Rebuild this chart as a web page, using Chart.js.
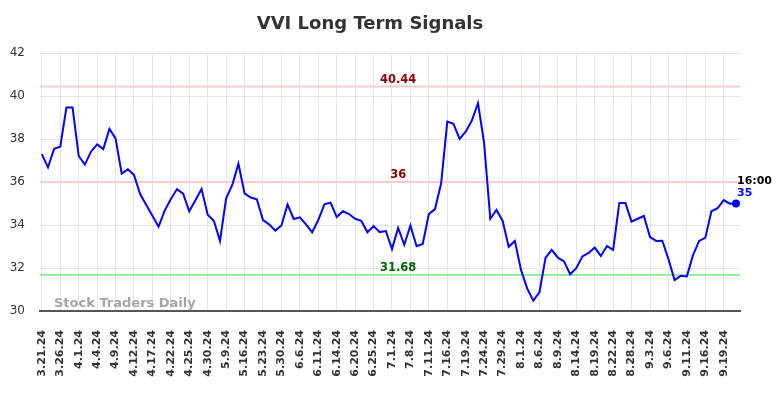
<!DOCTYPE html>
<html>
<head>
<meta charset="utf-8">
<script src="https://cdn.jsdelivr.net/npm/chart.js@4.4.1/dist/chart.umd.min.js"></script>
<style>
  html, body { margin: 0; padding: 0; background: #ffffff; }
  #wrap { width: 784px; height: 398px; }
</style>
</head>
<body>
<div id="wrap"><canvas id="c" width="784" height="398"></canvas></div>
<script>
const dates = [
  "3.21.24","3.22.24","3.25.24","3.26.24","3.27.24","3.28.24","4.1.24","4.2.24","4.3.24","4.4.24",
  "4.5.24","4.8.24","4.9.24","4.10.24","4.11.24","4.12.24","4.15.24","4.16.24","4.17.24","4.18.24",
  "4.19.24","4.22.24","4.23.24","4.24.24","4.25.24","4.26.24","4.29.24","4.30.24","5.2.24","5.6.24",
  "5.9.24","5.10.24","5.13.24","5.16.24","5.17.24","5.20.24","5.23.24","5.24.24","5.28.24","5.30.24",
  "5.31.24","6.3.24","6.6.24","6.7.24","6.10.24","6.11.24","6.12.24","6.13.24","6.14.24","6.17.24",
  "6.18.24","6.20.24","6.21.24","6.24.24","6.25.24","6.26.24","6.27.24","7.1.24","7.2.24","7.3.24",
  "7.8.24","7.9.24","7.10.24","7.11.24","7.12.24","7.15.24","7.16.24","7.17.24","7.18.24","7.19.24",
  "7.22.24","7.23.24","7.24.24","7.25.24","7.26.24","7.29.24","7.30.24","7.31.24","8.1.24","8.2.24",
  "8.5.24","8.6.24","8.7.24","8.8.24","8.9.24","8.12.24","8.13.24","8.14.24","8.15.24","8.16.24",
  "8.19.24","8.20.24","8.21.24","8.22.24","8.23.24","8.26.24","8.28.24","8.29.24","8.30.24","9.3.24",
  "9.4.24","9.5.24","9.6.24","9.9.24","9.10.24","9.11.24","9.12.24","9.13.24","9.16.24","9.17.24",
  "9.18.24","9.19.24","9.20.24","9.23.24"
];
const prices = [
  37.30,36.68,37.55,37.64,39.47,39.47,37.21,36.81,37.41,37.75,
  37.53,38.47,38.03,36.39,36.59,36.33,35.44,34.93,34.43,33.92,
  34.67,35.21,35.67,35.46,34.64,35.15,35.67,34.48,34.20,33.26,
  35.24,35.86,36.85,35.47,35.28,35.19,34.23,34.03,33.74,33.98,
  34.95,34.28,34.36,34.03,33.66,34.23,34.96,35.04,34.37,34.64,
  34.51,34.29,34.19,33.66,33.95,33.67,33.72,32.88,33.86,33.08,
  33.98,33.01,33.12,34.51,34.74,35.94,38.81,38.71,38.01,38.34,
  38.86,39.67,37.80,34.29,34.70,34.20,32.99,33.26,31.91,31.05,
  30.48,30.87,32.48,32.84,32.48,32.31,31.71,31.99,32.54,32.70,
  32.95,32.56,33.02,32.84,35.02,35.02,34.16,34.29,34.42,33.44,
  33.26,33.27,32.42,31.44,31.64,31.61,32.60,33.26,33.40,34.64,
  34.78,35.16,34.99,35.00
];
const tickIndexes = [0,3,6,9,12,15,18,21,24,27,30,33,36,39,42,45,48,51,54,57,60,63,66,69,72,75,78,81,84,87,90,93,96,99,102,105,108,111];
const yTicks = [30,32,34,36,38,40,42];
const thresholdValues = [40.44, 36, 31.68];
const thresholdLabels = ["40.44", "36", "31.68"];
const thresholdLineColors = ["#ffcccc", "#ffcccc", "#99ee99"];
const thresholdTextColors = ["#8b0000", "#8b0000", "#006400"];
const lastTimeLabel = "16:00";
const lastValueLabel = "35";
const titleText = "VVI Long Term Signals";
const watermarkText = "Stock Traders Daily";

const FONT = "'DejaVu Sans', sans-serif";
const points = prices.map((v, i) => ({ x: i, y: v }));
const lastIdx = prices.length - 1;

const overlay = {
  id: 'overlay',
  beforeDatasetsDraw(chart) {
    const { ctx, chartArea, scales } = chart;
    ctx.save();
    thresholdValues.forEach((v, i) => {
      const y = scales.y.getPixelForValue(v);
      ctx.strokeStyle = thresholdLineColors[i];
      ctx.lineWidth = 2;
      ctx.beginPath();
      ctx.moveTo(chartArea.left, y);
      ctx.lineTo(chartArea.right, y);
      ctx.stroke();
    });
    ctx.font = "bold 13px " + FONT;
    ctx.fillStyle = "rgba(160,160,160,0.95)";
    ctx.textAlign = "left";
    ctx.textBaseline = "alphabetic";
    ctx.fillText(watermarkText, chartArea.left + 14, chartArea.bottom - 4);
    ctx.restore();
  },
  afterDatasetsDraw(chart) {
    const { ctx, scales } = chart;
    ctx.save();
    const cx = scales.x.getPixelForValue(58);
    ctx.font = "bold 11.5px " + FONT;
    ctx.textAlign = "center";
    ctx.textBaseline = "alphabetic";
    thresholdValues.forEach((v, i) => {
      const y = scales.y.getPixelForValue(v);
      ctx.fillStyle = thresholdTextColors[i];
      ctx.fillText(thresholdLabels[i], cx, y - 4);
    });
    const px = scales.x.getPixelForValue(lastIdx);
    const py = scales.y.getPixelForValue(prices[lastIdx]);
    ctx.textAlign = "left";
    ctx.font = "bold 11px " + FONT;
    ctx.fillStyle = "#000000";
    ctx.fillText(lastTimeLabel, px + 1, py - 20);
    ctx.fillStyle = "#0000ff";
    ctx.fillText(lastValueLabel, px + 1, py - 8);
    ctx.restore();
  }
};

new Chart(document.getElementById('c'), {
  type: 'line',
  data: {
    datasets: [{
      data: points,
      borderColor: '#0000ff',
      backgroundColor: '#0000ff',
      borderWidth: 2,
      tension: 0,
      fill: false,
      pointRadius: (ctx) => ctx.dataIndex === lastIdx ? 4 : 0,
      pointHoverRadius: 0,
      pointBackgroundColor: '#0000ff',
      pointBorderWidth: 0
    }]
  },
  options: {
    responsive: false,
    animation: false,
    events: [],
    layout: { padding: { left: 0, right: 44, top: 0, bottom: 0 } },
    plugins: {
      legend: { display: false },
      tooltip: { enabled: false },
      title: {
        display: true,
        text: titleText,
        color: '#333333',
        font: { family: FONT, size: 18, weight: 'bold' },
        padding: { top: 14, bottom: 17.4 }
      }
    },
    scales: {
      x: {
        type: 'linear',
        min: -0.3,
        max: 113.65,
        afterBuildTicks: (scale) => { scale.ticks = tickIndexes.map(v => ({ value: v })); },
        afterFit: (scale) => { scale.height = 87; },
        grid: { color: '#e6e6e6', drawTicks: false, lineWidth: 1 },
        border: { display: true, color: '#555555', width: 2 },
        ticks: {
          autoSkip: false,
          minRotation: 90,
          maxRotation: 90,
          padding: 19,
          color: '#333333',
          font: { family: FONT, size: 11, weight: 'bold' },
          callback: (v) => dates[v]
        }
      },
      y: {
        min: 30,
        max: 42,
        afterBuildTicks: (scale) => { scale.ticks = yTicks.map(v => ({ value: v })); },
        afterFit: (scale) => { scale.width = 40; },
        grid: { color: '#e6e6e6', drawTicks: false, lineWidth: 1 },
        border: { display: false },
        ticks: {
          padding: 15,
          color: '#333333',
          font: { family: FONT, size: 12 },
          callback: (v) => String(v)
        }
      }
    }
  },
  plugins: [overlay]
});
</script>
</body>
</html>
